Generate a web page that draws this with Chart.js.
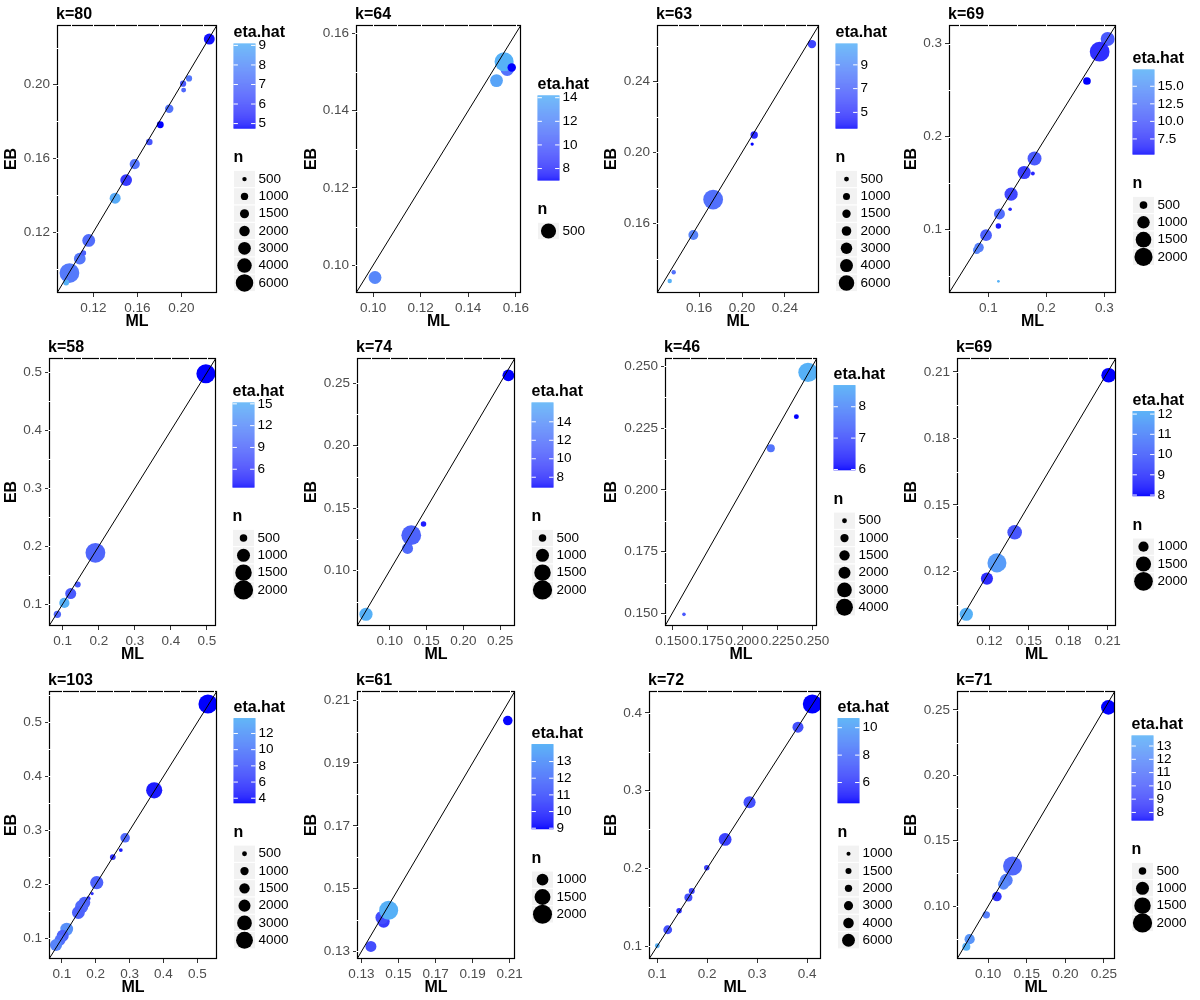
<!DOCTYPE html>
<html>
<head>
<meta charset="utf-8">
<title>EB vs ML</title>
<script src="https://cdn.jsdelivr.net/npm/chart.js@4"></script>
<style>
  html, body { margin: 0; padding: 0; background: #fff; }
  #grid { position: relative; width: 1200px; height: 1000px; }
  .cell { position: absolute; width: 300px; height: 333px; }
  .cell canvas { display: block; }
</style>
</head>
<body>
<div id="grid"></div>
<script>
// ---- data, one entry per panel (row by row) ----
const titles = ['k=80', 'k=64', 'k=63', 'k=69', 'k=58', 'k=74', 'k=46', 'k=69', 'k=103', 'k=61', 'k=72', 'k=71'];

const mlValues = [
  [0.0983, 0.0953, 0.1077, 0.1110, 0.1158, 0.1398, 0.1498, 0.1576, 0.1708, 0.1808, 0.1889, 0.2015, 0.2020, 0.2069, 0.2253],
  [0.1564, 0.1551, 0.1583, 0.1519, 0.1008],
  [0.1730, 0.1545, 0.1361, 0.1324, 0.2114, 0.2095, 0.2654],
  [0.3056, 0.2918, 0.2699, 0.1795, 0.1616, 0.1766, 0.1391, 0.1374, 0.1190, 0.1172, 0.0959, 0.0838, 0.0798, 0.1172],
  [0.4970, 0.1907, 0.1416, 0.1222, 0.1046, 0.0852],
  [0.2612, 0.1459, 0.1242, 0.1292, 0.0677],
  [0.2469, 0.2386, 0.2204, 0.1585],
  [0.2107, 0.1392, 0.1257, 0.1181, 0.1024],
  [0.5313, 0.3726, 0.2868, 0.2740, 0.2503, 0.2030, 0.1892, 0.1783, 0.1665, 0.1586, 0.1488, 0.1143, 0.1024, 0.0945, 0.0827],
  [0.1420, 0.1411, 0.1447, 0.1351, 0.2090],
  [0.4106, 0.3819, 0.2849, 0.2360, 0.1992, 0.1691, 0.1624, 0.1437, 0.1210, 0.1002],
  [0.2559, 0.1316, 0.1234, 0.1199, 0.1113, 0.0975, 0.0759, 0.0716]
];

const ebValues = [
  [0.0978, 0.0927, 0.1056, 0.1087, 0.1155, 0.1384, 0.1482, 0.1569, 0.1689, 0.1782, 0.1869, 0.2005, 0.1970, 0.2033, 0.2247],
  [0.1507, 0.1527, 0.1512, 0.1478, 0.0968],
  [0.1733, 0.1533, 0.1322, 0.1273, 0.2098, 0.2047, 0.2612],
  [0.3049, 0.2913, 0.2598, 0.1766, 0.1615, 0.1604, 0.1382, 0.1220, 0.1170, 0.1041, 0.0941, 0.0808, 0.0779, 0.0446],
  [0.4977, 0.1884, 0.1336, 0.1180, 0.1018, 0.0822],
  [0.2563, 0.1372, 0.1176, 0.1283, 0.0649],
  [0.2475, 0.2296, 0.2168, 0.1497],
  [0.2085, 0.1376, 0.1238, 0.1167, 0.1006],
  [0.5340, 0.3742, 0.2863, 0.2636, 0.2507, 0.2034, 0.1831, 0.1739, 0.1665, 0.1591, 0.1480, 0.1173, 0.1050, 0.0970, 0.0878],
  [0.1395, 0.1408, 0.1431, 0.1316, 0.2035],
  [0.4114, 0.3815, 0.2850, 0.2372, 0.2009, 0.1710, 0.1625, 0.1454, 0.1211, 0.1006],
  [0.2520, 0.1306, 0.1197, 0.1167, 0.1073, 0.0933, 0.0747, 0.0689]
];

const etaValues = [
  [7.4, 9.1, 7.3, 6.6, 7.0, 8.9, 5.6, 7.2, 6.3, 4.75, 7.2, 6.4, 6.8, 7.3, 4.9],
  [11, 14.2, 7.0, 13.5, 12],
  [7.5, 8.5, 7.5, 10.8, 4.5, 3.65, 5.5],
  [10, 7, 5.3, 10, 8, 6.5, 8.5, 6.5, 11.5, 6, 10.5, 13, 13.5, 17.4],
  [3.5, 9, 8, 8, 15.2, 9],
  [6.9, 7.5, 11.5, 11, 16.1],
  [8.69, 5.98, 7.5, 7.0],
  [7.95, 9.5, 11.5, 8.5, 12.15],
  [3.4, 4.0, 8.5, 4.0, 5.0, 8.0, 5.0, 5.0, 8.0, 8.5, 8.0, 11.5, 8.0, 9.0, 10.5],
  [10, 10.5, 14, 10.5, 9],
  [4.5, 6.5, 6.5, 6, 6, 6, 6.5, 5.5, 6.5, 10.7],
  [7.4, 10.5, 11.5, 12, 8.5, 11.5, 12.5, 13.8]
];

const nValues = [
  [7850, 690, 2560, 630, 3100, 2220, 2560, 1890, 830, 900, 1300, 765, 557, 765, 2200],
  [400, 750, 229, 385, 385],
  [10300, 2150, 430, 430, 1110, 326, 1510],
  [1220, 2370, 500, 1220, 1100, 324, 1100, 320, 812, 375, 906, 660, 477, 311],
  [1950, 2100, 426, 777, 703, 492],
  [856, 405, 777, 2100, 1023],
  [5400, 511, 947, 425],
  [1431, 1431, 2051, 1160, 1270],
  [5150, 3655, 1280, 435, 600, 2400, 414, 467, 1905, 2400, 2280, 2280, 2010, 1670, 2010],
  [1034, 1154, 2000, 928, 808],
  [13840, 4337, 5274, 6005, 1318, 1491, 2349, 1318, 2786, 1173],
  [1214, 1948, 983, 777, 646, 492, 703, 532]
];

// shared ML / EB axis range of each panel
const axisLimits = [
  [0.087, 0.2323], [0.0928, 0.1622], [0.1205, 0.272], [0.032, 0.320],
  [0.062, 0.525], [0.0555, 0.2702], [0.145, 0.2533], [0.0953, 0.2163],
  [0.062, 0.558], [0.1276, 0.2129], [0.0835, 0.428], [0.0595, 0.2645]
];

const axisTicks = [
  ['0.12', '0.16', '0.20'],
  ['0.10', '0.12', '0.14', '0.16'],
  ['0.16', '0.20', '0.24'],
  ['0.1', '0.2', '0.3'],
  ['0.1', '0.2', '0.3', '0.4', '0.5'],
  ['0.10', '0.15', '0.20', '0.25'],
  ['0.150', '0.175', '0.200', '0.225', '0.250'],
  ['0.12', '0.15', '0.18', '0.21'],
  ['0.1', '0.2', '0.3', '0.4', '0.5'],
  ['0.13', '0.15', '0.17', '0.19', '0.21'],
  ['0.1', '0.2', '0.3', '0.4'],
  ['0.10', '0.15', '0.20', '0.25']
];

const etaLimits = [
  [4.75, 9.1], [7.0, 14.2], [3.65, 10.8], [5.3, 17.4], [3.5, 15.2], [6.9, 16.1],
  [5.98, 8.69], [7.95, 12.15], [3.4, 13.9], [8.95, 14.05], [4.5, 10.7], [7.4, 13.8]
];

const etaBreaks = [
  ['5', '6', '7', '8', '9'],
  ['8', '10', '12', '14'],
  ['5', '7', '9'],
  ['7.5', '10.0', '12.5', '15.0'],
  ['6', '9', '12', '15'],
  ['8', '10', '12', '14'],
  ['6', '7', '8'],
  ['8', '9', '10', '11', '12'],
  ['4', '6', '8', '10', '12'],
  ['9', '10', '11', '12', '13'],
  ['6', '8', '10'],
  ['8', '9', '10', '11', '12', '13']
];

const sizeLimits = [
  [400, 7850], [150, 800], [300, 10300], [310, 2370], [350, 2100], [350, 2100],
  [400, 5640], [701, 2180], [400, 5600], [537, 2140], [872, 15070], [350, 2100]
];

const nBreaks = [500, 1000, 1500, 2000, 3000, 4000, 6000];

// ---- layout (pixels inside each 300x333 cell) ----
const plotLeft = [57, 56, 57, 49, 49, 57, 65, 57, 49, 57, 49, 57];
const plotRight = [217, 221, 219, 216, 216, 215, 217, 216, 217, 215, 221, 215];
const PLOT_TOP = 25, PLOT_BOTTOM = 293, CELL_W = 300, CELL_H = 333;
const FONT = '"Liberation Sans", Arial, Helvetica, sans-serif';

Chart.defaults.font.family = FONT;

// ---- colour scale: blue -> #56B1F7, interpolated in CIE Lab like ggplot ----
function toLin(c) { c /= 255; return c <= 0.04045 ? c / 12.92 : Math.pow((c + 0.055) / 1.055, 2.4); }
function fromLin(c) {
  c = c <= 0.0031308 ? 12.92 * c : 1.055 * Math.pow(c, 1 / 2.4) - 0.055;
  return Math.round(Math.max(0, Math.min(1, c)) * 255);
}
function rgbToLab(rgb) {
  const [r, g, b] = rgb.map(toLin);
  const x = (0.4124 * r + 0.3576 * g + 0.1805 * b) / 0.95047;
  const y = 0.2126 * r + 0.7152 * g + 0.0722 * b;
  const z = (0.0193 * r + 0.1192 * g + 0.9505 * b) / 1.08883;
  const f = t => t > 0.008856 ? Math.cbrt(t) : 7.787 * t + 16 / 116;
  return [116 * f(y) - 16, 500 * (f(x) - f(y)), 200 * (f(y) - f(z))];
}
function labToRgb([L, A, B]) {
  const fy = (L + 16) / 116, fx = fy + A / 500, fz = fy - B / 200;
  const inv = t => t > 0.206893 ? t * t * t : (t - 16 / 116) / 7.787;
  const x = inv(fx) * 0.95047, y = inv(fy), z = inv(fz) * 1.08883;
  const r = 3.2406 * x - 1.5372 * y - 0.4986 * z;
  const g = -0.9689 * x + 1.8758 * y + 0.0415 * z;
  const b = 0.0557 * x - 0.2040 * y + 1.0570 * z;
  return [fromLin(r), fromLin(g), fromLin(b)];
}
const LOW = rgbToLab([0, 0, 255]);
const HIGH = rgbToLab([86, 177, 247]);
function etaColor(v, lim) {
  const t = Math.max(0, Math.min(1, (v - lim[0]) / (lim[1] - lim[0])));
  const c = labToRgb(LOW.map((l, i) => l + (HIGH[i] - l) * t));
  return `rgb(${c[0]},${c[1]},${c[2]})`;
}

// area-style size scale (diameter grows with sqrt of n)
function pointDiameter(n, lim) {
  const t = Math.max(0, Math.min(1, (n - lim[0]) / (lim[1] - lim[0])));
  return 2.4 + 17.4 * Math.sqrt(t);
}

function gridValues(ticks, lim) {
  const major = ticks.map(parseFloat);
  const step = (major[1] - major[0]) / 2;
  let v = major[0];
  while (v - step >= lim[0]) v -= step;
  const out = [];
  for (; v <= lim[1] + 1e-9; v += step) out.push(v);
  return out;
}

// border, grid gaps, title and the two legends
const extras = {
  id: 'extras',
  afterDraw(chart, args, opts) {
    const p = opts.panel;
    const ctx = chart.ctx;
    const a = chart.chartArea;
    const xs = chart.scales.x, ys = chart.scales.y;
    ctx.save();

    ctx.strokeStyle = '#000';
    ctx.lineWidth = 1.2;
    ctx.strokeRect(Math.round(a.left) + 0.5, Math.round(a.top) + 0.5,
      Math.round(a.right) - Math.round(a.left) - 1, Math.round(a.bottom) - Math.round(a.top) - 1);

    ctx.fillStyle = '#fff';
    gridValues(axisTicks[p], axisLimits[p]).forEach(v => {
      const px = xs.getPixelForValue(v);
      ctx.fillRect(Math.round(px), Math.round(a.top) - 1, 1, 3);
      const py = ys.getPixelForValue(v);
      ctx.fillRect(Math.round(a.left) - 1, Math.round(py), 3, 1);
    });

    ctx.fillStyle = '#000';
    ctx.textBaseline = 'alphabetic';
    ctx.textAlign = 'left';
    ctx.font = `bold 16px ${FONT}`;
    ctx.fillText(titles[p], a.left - 1, 19);

    // legends
    const keys = nBreaks.filter(b => b >= sizeLimits[p][0] && b <= sizeLimits[p][1]);
    const keyH = 17.3, barW = 22, barH = 85;
    const blockH = 144 + keyH * keys.length;
    const top = (a.top + a.bottom) / 2 - blockH / 2;
    const lx = a.right + 16.5;

    ctx.font = `bold 16px ${FONT}`;
    ctx.fillText('eta.hat', lx, top + 11);

    const barTop = top + 17;
    const lim = etaLimits[p];
    for (let i = 0; i < barH; i++) {
      const v = lim[1] - (i + 0.5) / barH * (lim[1] - lim[0]);
      ctx.fillStyle = etaColor(v, lim);
      ctx.fillRect(lx, barTop + i, barW, 1.2);
    }
    ctx.font = `13.5px ${FONT}`;
    ctx.textBaseline = 'middle';
    etaBreaks[p].forEach(lbl => {
      const v = parseFloat(lbl);
      const y = barTop + (lim[1] - v) / (lim[1] - lim[0]) * barH;
      ctx.strokeStyle = '#fff';
      ctx.lineWidth = 1;
      ctx.beginPath();
      ctx.moveTo(lx, y); ctx.lineTo(lx + barW / 5, y);
      ctx.moveTo(lx + barW, y); ctx.lineTo(lx + barW - barW / 5, y);
      ctx.stroke();
      ctx.fillStyle = '#000';
      ctx.fillText(lbl, lx + barW + 3, y);
    });

    ctx.textBaseline = 'alphabetic';
    ctx.font = `bold 16px ${FONT}`;
    ctx.fillText('n', lx, top + 136);

    ctx.font = `13.5px ${FONT}`;
    ctx.textBaseline = 'middle';
    keys.forEach((b, i) => {
      const ky = top + 144 + i * keyH;
      ctx.fillStyle = '#F2F2F2';
      ctx.fillRect(lx, ky, barW, keyH);
      ctx.strokeStyle = '#fff';
      ctx.lineWidth = 1;
      ctx.strokeRect(lx, ky, barW, keyH);
      ctx.fillStyle = '#000';
      ctx.beginPath();
      ctx.arc(lx + barW / 2, ky + keyH / 2, pointDiameter(b, sizeLimits[p]) / 2, 0, Math.PI * 2);
      ctx.fill();
      ctx.fillText(String(b), lx + barW + 3, ky + keyH / 2);
    });
    ctx.restore();
  }
};

const grid = document.getElementById('grid');

titles.forEach((title, p) => {
  const cell = document.createElement('div');
  cell.className = 'cell';
  cell.style.left = (p % 4) * CELL_W + 'px';
  cell.style.top = Math.floor(p / 4) * CELL_H + 'px';
  const canvas = document.createElement('canvas');
  canvas.width = CELL_W; canvas.height = CELL_H;
  canvas.style.width = CELL_W + 'px'; canvas.style.height = CELL_H + 'px';
  cell.appendChild(canvas);
  grid.appendChild(cell);

  const lim = axisLimits[p];
  const tickLabels = axisTicks[p];
  const tickVals = tickLabels.map(parseFloat);
  const points = mlValues[p].map((x, i) => ({ x: x, y: ebValues[p][i] }));

  const axis = (title, isY) => ({
    type: 'linear',
    min: lim[0],
    max: lim[1],
    afterBuildTicks: s => { s.ticks = tickVals.map(v => ({ value: v })); },
    afterFit: s => {
      if (isY) s.width = plotLeft[p];
      else s.height = CELL_H - PLOT_BOTTOM;
    },
    grid: { drawOnChartArea: false, drawTicks: true, tickLength: 4, color: '#333333', lineWidth: 1 },
    border: { display: false },
    ticks: {
      autoSkip: false, maxRotation: 0, minRotation: 0, padding: 3,
      color: '#4D4D4D', font: { size: 13.5 },
      callback: (v, i) => tickLabels[i]
    },
    title: {
      display: true, text: title, color: '#000',
      font: { size: 16, weight: 'bold' },
      padding: isY ? { top: 2, bottom: 0 } : { top: 0, bottom: 2 }
    }
  });

  new Chart(canvas, {
    type: 'scatter',
    data: {
      datasets: [
        {
          data: [{ x: lim[0], y: lim[0] }, { x: lim[1], y: lim[1] }],
          showLine: true,
          borderColor: '#000',
          borderWidth: 1,
          pointRadius: 0,
          order: 0
        },
        {
          data: points,
          pointRadius: nValues[p].map(n => pointDiameter(n, sizeLimits[p]) / 2),
          pointHoverRadius: nValues[p].map(n => pointDiameter(n, sizeLimits[p]) / 2),
          pointBackgroundColor: etaValues[p].map(v => etaColor(v, etaLimits[p])),
          pointBorderWidth: 0,
          order: 1
        }
      ]
    },
    options: {
      responsive: false,
      animation: false,
      events: [],
      layout: {
        autoPadding: false,
        padding: { top: PLOT_TOP, left: 0, right: CELL_W - plotRight[p], bottom: 0 }
      },
      scales: { x: axis('ML', false), y: axis('EB', true) },
      plugins: {
        legend: { display: false },
        tooltip: { enabled: false },
        extras: { panel: p }
      }
    },
    plugins: [extras]
  });
});
</script>
</body>
</html>
